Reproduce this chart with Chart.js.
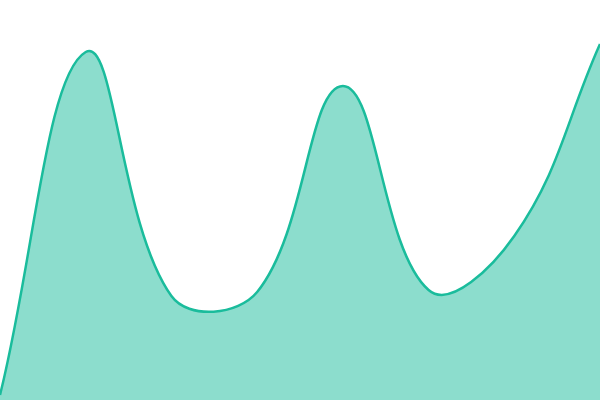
<!DOCTYPE html>
<html><head><meta charset="utf-8">
<script src="https://cdn.jsdelivr.net/npm/chart.js@4"></script>
<style>html,body{margin:0;padding:0;background:#fff}#wrap{width:600px;height:400px}</style>
</head><body><div id="wrap"><canvas id="c"></canvas></div>
<script>
const categories = ["1","2","3","4","5","6","7","8"];
const values = [1.25, 87, 26, 27, 78.5, 27.5, 41, 89];
new Chart(document.getElementById('c'), {
  type: 'line',
  data: { labels: categories, datasets: [{
    data: values, borderColor: '#1abc9c', backgroundColor: 'rgba(26,188,156,0.5)',
    borderWidth: 2.5, fill: 'origin', tension: 0.4, pointRadius: 0
  }]},
  options: {
    responsive: true, maintainAspectRatio: false, animation: false,
    layout: { padding: 0 },
    plugins: { legend: { display: false }, tooltip: { enabled: false } },
    scales: { x: { display: false }, y: { display: false, min: 0, max: 100 } }
  }
});
</script></body></html>
